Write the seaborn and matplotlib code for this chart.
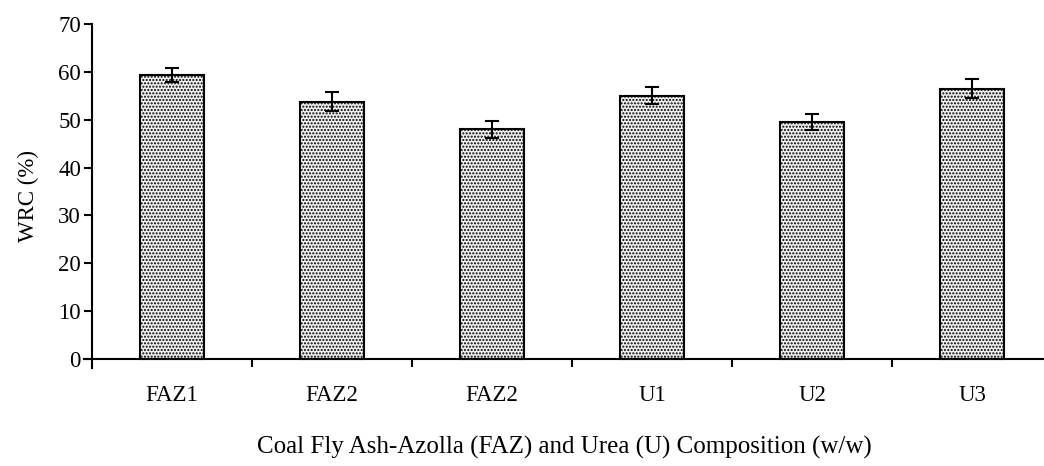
import pandas as pd
import matplotlib
matplotlib.use("Agg")
import matplotlib.pyplot as plt
from matplotlib.ticker import FixedLocator
import seaborn as sns

# Data
categories = ['FAZ1', 'FAZ2', 'FAZ2 ', 'U1', 'U2', 'U3']
tick_labels = ['FAZ1', 'FAZ2', 'FAZ2', 'U1', 'U2', 'U3']
wrc = [59.4, 53.8, 48.0, 55.0, 49.5, 56.5]
wrc_err = [1.5, 1.9, 1.8, 1.8, 1.6, 1.9]

data = pd.DataFrame({'composition': categories, 'wrc': wrc})

sns.set_theme(style="ticks")
plt.rcParams['font.family'] = ['Liberation Serif', 'DejaVu Serif']
plt.rcParams['hatch.linewidth'] = 1.0
plt.rcParams['hatch.color'] = '#7a7a7a'

fig = plt.figure(figsize=(10.44, 4.66), dpi=100)
ax = fig.add_axes([84 / 1044, 1 - 368 / 466, 1 - 84 / 1044, (368 - 24) / 466])

sns.barplot(data=data, x='composition', y='wrc', order=categories, errorbar=None,
            width=0.4, color='#f0f0f0', edgecolor='black', linewidth=1.5,
            hatch='.....', ax=ax)
ax.errorbar(range(len(categories)), wrc, yerr=wrc_err, fmt='none',
            ecolor='black', elinewidth=1.5, capsize=5, capthick=1.5)

ax.set_ylim(-1.9, 70)
ax.set_xlim(-0.55, 5.45)
ax.spines['bottom'].set_position(('data', 0))
ax.spines['left'].set_position(('data', -0.5))
ax.spines['top'].set_visible(False)
ax.spines['right'].set_visible(False)
for side in ['left', 'bottom']:
    ax.spines[side].set_linewidth(1.5)
    ax.spines[side].set_color('black')
ax.spines['left'].set_bounds(-1.9, 70)

ax.set_yticks(range(0, 71, 10))
ax.set_xticks(range(len(categories)))
ax.set_xticklabels(tick_labels)
ax.xaxis.set_minor_locator(FixedLocator([0.5, 1.5, 2.5, 3.5, 4.5]))
ax.tick_params(axis='x', which='major', length=0, pad=19, labelsize=16.5, colors='black')
ax.tick_params(axis='x', which='minor', direction='out', length=6, width=1.5, color='black')
ax.tick_params(axis='y', direction='out', length=6, width=1.5, labelsize=16.5,
               colors='black', pad=2)

ax.set_xlabel('Coal Fly Ash-Azolla (FAZ) and Urea (U) Composition (w/w)',
              fontsize=18, labelpad=21, color='black')
ax.set_ylabel('WRC (%)', fontsize=16.5, labelpad=14, color='black')
ax.patch.set_alpha(0)

fig.savefig('out.png', dpi=100)
